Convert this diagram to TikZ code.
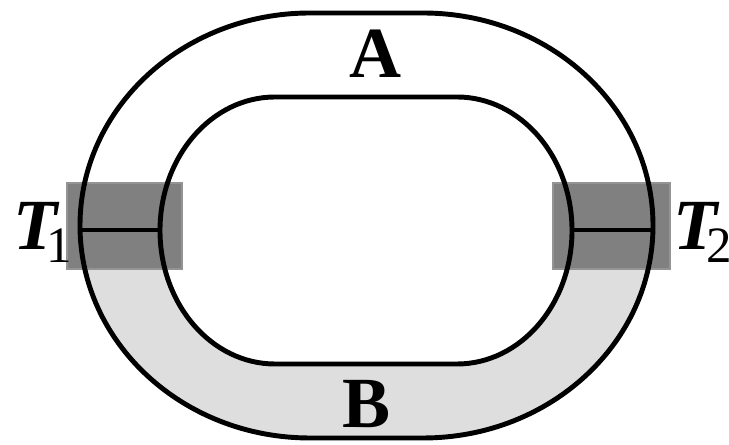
\documentclass[tikz,border=0pt]{standalone}
\usepackage{fontspec}
\setmainfont{Liberation Serif}

\tikzset{
  track/.style={line width=2.8pt},
  gate/.style={fill=black!50, draw=black!42, line width=0.6pt},
  lbl/.style={font=\fontsize{41}{48}\selectfont\bfseries, inner sep=0pt}
}

% the two loops, in pixel units
\newcommand{\outerloop}{(310,432) -- (423,432)
  arc[start angle=90, end angle=-90, x radius=230, y radius=212.5] -- (310,7)
  arc[start angle=270, end angle=90, x radius=230, y radius=212.5] -- cycle}
\newcommand{\innerloop}{(275,348) -- (457,348)
  arc[start angle=90, end angle=-90, x radius=115, y radius=133.5] -- (275,81)
  arc[start angle=270, end angle=90, x radius=115, y radius=133.5] -- cycle}
\newcommand{\tsub}[1]{\kern-6pt\raisebox{-7.4pt}{\mdseries\upshape\fontsize{29}{32}\selectfont #1}}

\begin{document}
\begin{tikzpicture}[x=0.02cm, y=0.02cm]
  \useasboundingbox (0,0) rectangle (729,445);

  % Lower branch B shaded
  \begin{scope}
    \clip (0,0) rectangle (729,215);
    \fill[black!13, even odd rule] \outerloop \innerloop;
  \end{scope}

  % Gates
  \fill[gate] (67,176) rectangle (182,262);
  \fill[gate] (553,176) rectangle (670,262);

  % Loops
  \draw[track] \outerloop;
  \draw[track] \innerloop;

  % Ends of the junction lines
  \coordinate (o1) at (80,215);
  \coordinate (i1) at (160,215);
  \coordinate (i2) at (572,215);
  \coordinate (o2) at (653,215);
  \draw[track] (o1) -- (i1);
  \draw[track] (i2) -- (o2);

  % Labels
  \node[lbl] (a) at (376,391) {A};
  \node[lbl] (b) at (367,41) {B};
  \node[lbl, anchor=base west] (t1) at (13,195) {\itshape T\tsub{1}};
  \node[lbl, anchor=base west] (t2) at (673,195) {\itshape T\tsub{2}};
\end{tikzpicture}
\end{document}
